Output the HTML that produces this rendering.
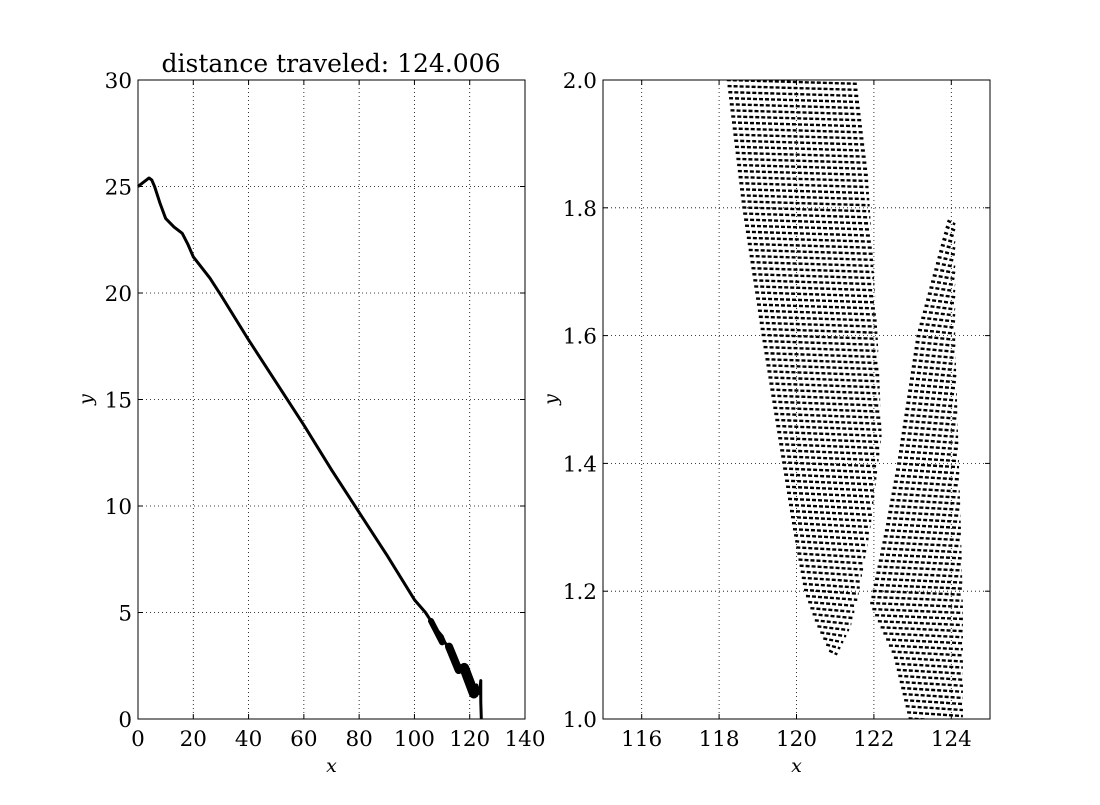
<!DOCTYPE html>
<html><head><meta charset="utf-8"><style>
body{margin:0;background:#fff}
svg{font-family:"DejaVu Serif","Liberation Serif",serif}
</style></head><body>
<svg id="s" width="1100" height="800" xmlns="http://www.w3.org/2000/svg"></svg>
<script>
// Left chart data
const lx=[0,2,4,5,6,8,10,13,16,18,20,23,26,30,40,50,60,70,80,90,100,104,106,108,110,111,112,113,114,115,116,117,118,119,120,121,122,122.5,123,123.5,124,124,124.2];
const ly=[25,25.2,25.4,25.3,25.0,24.2,23.5,23.1,22.8,22.3,21.7,21.2,20.7,19.9,17.8,15.8,13.8,11.7,9.7,7.7,5.6,5.0,4.6,4.2,3.9,3.6,3.4,3.3,3.1,2.7,2.5,2.4,2.3,2.2,1.9,1.4,1.2,1.6,1.3,1.2,1.8,0.8,0];
// wiggle blobs: start x, start y, end x, end y
const bx0=[106,112.5,118];
const by0=[4.6,3.4,2.4];
const bx1=[110,116,121.5];
const by1=[3.6,2.3,1.2];
const lxTicks=[0,20,40,60,80,100,120,140];
const lyTicks=[0,5,10,15,20,25,30];
// Right chart envelopes
const r1y=[2.0,1.9,1.8,1.6,1.45,1.3,1.2,1.15,1.1];
const r1l=[118.2,118.4,118.6,119.1,119.5,119.9,120.2,120.5,120.9];
const r1r=[121.6,121.8,121.9,122.1,122.2,121.9,121.6,121.4,121.0];
const r2y=[1.0,1.1,1.18,1.3,1.4,1.6,1.78];
const r2l=[122.9,122.5,121.9,122.3,122.6,123.1,123.9];
const r2r=[124.3,124.3,124.3,124.25,124.2,124.1,124.1];
const rxTicks=[116,118,120,122,124];
const ryTicks=[1.0,1.2,1.4,1.6,1.8,2.0];
const rlbl=["1.0","1.2","1.4","1.6","1.8","2.0"];

const S=document.getElementById('s');const NS='http://www.w3.org/2000/svg';
function el(t,a,p){const e=document.createElementNS(NS,t);for(const k in a)e.setAttribute(k,a[k]);(p||S).appendChild(e);return e;}
function axes(L,R,T,B,x0,x1,y0,y1,xt,yt,xl,yl,name){
 const X=v=>L+(v-x0)/(x1-x0)*(R-L), Y=v=>B-(v-y0)/(y1-y0)*(B-T);
 const g=el('g',{});
 
 
 xt.forEach((v,i)=>{const x=X(v);
  if(x>L+1&&x<R-1){const gl=el('line',{x1:x,x2:x,y1:T,y2:B,stroke:'#000','stroke-width':0.8,'stroke-dasharray':'1,3'},g);}
  el('line',{x1:x,x2:x,y1:B,y2:B-5,stroke:'#000'},g);el('line',{x1:x,x2:x,y1:T,y2:T+5,stroke:'#000'},g);
  const t=el('text',{x:x,y:B+27,'text-anchor':'middle','font-size':21.5},g);t.textContent=xl[i];
  });
 yt.forEach((v,i)=>{const y=Y(v);
  if(y>T+1&&y<B-1){const gl=el('line',{x1:L,x2:R,y1:y,y2:y,stroke:'#000','stroke-width':0.8,'stroke-dasharray':'1,3'},g);}
  el('line',{x1:L,x2:L+5,y1:y,y2:y,stroke:'#000'},g);el('line',{x1:R,x2:R-5,y1:y,y2:y,stroke:'#000'},g);
  const t=el('text',{x:L-6,y:y+8,'text-anchor':'end','font-size':21.5},g);t.textContent=yl[i];
  });
 const fr=el('rect',{x:L,y:T,width:R-L,height:B-T,fill:'none',stroke:'#000','stroke-width':1});
 
 const xa=el('text',{x:(L+R)/2,y:B+53,'text-anchor':'middle','font-size':19,'font-style':'italic'});xa.textContent='x';
 
 const ya=el('text',{x:0,y:0,'text-anchor':'middle','font-size':19,'font-style':'italic',transform:`translate(${L-46},${(T+B)/2}) rotate(-90)`});ya.textContent='y';
 
 return [X,Y];
}
// left
const [X1,Y1]=axes(138,525,80,719,0,140,0,30,lxTicks,lyTicks,lxTicks.map(String),lyTicks.map(String),'left-axes');
const p1=el('polyline',{points:lx.map((v,i)=>X1(v)+','+Y1(ly[i])).join(' '),fill:'none',stroke:'#000','stroke-width':3,'stroke-linejoin':'round'});


bx0.forEach((v,i)=>{const b=el('line',{x1:X1(v),y1:Y1(by0[i]),x2:X1(bx1[i]),y2:Y1(by1[i]),stroke:'#000','stroke-width':6+2*i,'stroke-linecap':'round'});
 
 });
const ti=el('text',{x:331,y:72,'text-anchor':'middle','font-size':25});ti.textContent='distance traveled: 124.006';


// right
const [X2,Y2]=axes(603,990,80,719,115,125,1,2,rxTicks,ryTicks,rxTicks.map(String),rlbl,'right-axes');
const cp=el('clipPath',{id:'c'});el('rect',{x:603,y:80,width:387,height:639},cp);
const rg=el('g',{'clip-path':'url(#c)'});


function interp(ys,xs,y){for(let i=0;i<ys.length-1;i++){const a=ys[i],b=ys[i+1];if((y<=a&&y>=b)||(y>=a&&y<=b)){const t=(y-a)/(b-a);return xs[i]+t*(xs[i+1]-xs[i]);}}return null;}
function lobe(ys,ls,rs){const lo=Math.min(...ys),hi=Math.max(...ys);let d='';
 for(let y=hi;y>=lo;y-=0.0095){const xl=interp(ys,ls,y),xr=interp(ys,rs,y);if(xl==null)continue;
  d+=`M${X2(xl)},${Y2(y)}L${X2(xr)},${Y2(y-0.006)}`;}
 const p=el('path',{d:d,fill:'none',stroke:'#000','stroke-width':2.4,'stroke-dasharray':'4,2'},rg);
 
 }
lobe(r1y,r1l,r1r);lobe(r2y,r2l,r2r);
</script>
</body></html>
